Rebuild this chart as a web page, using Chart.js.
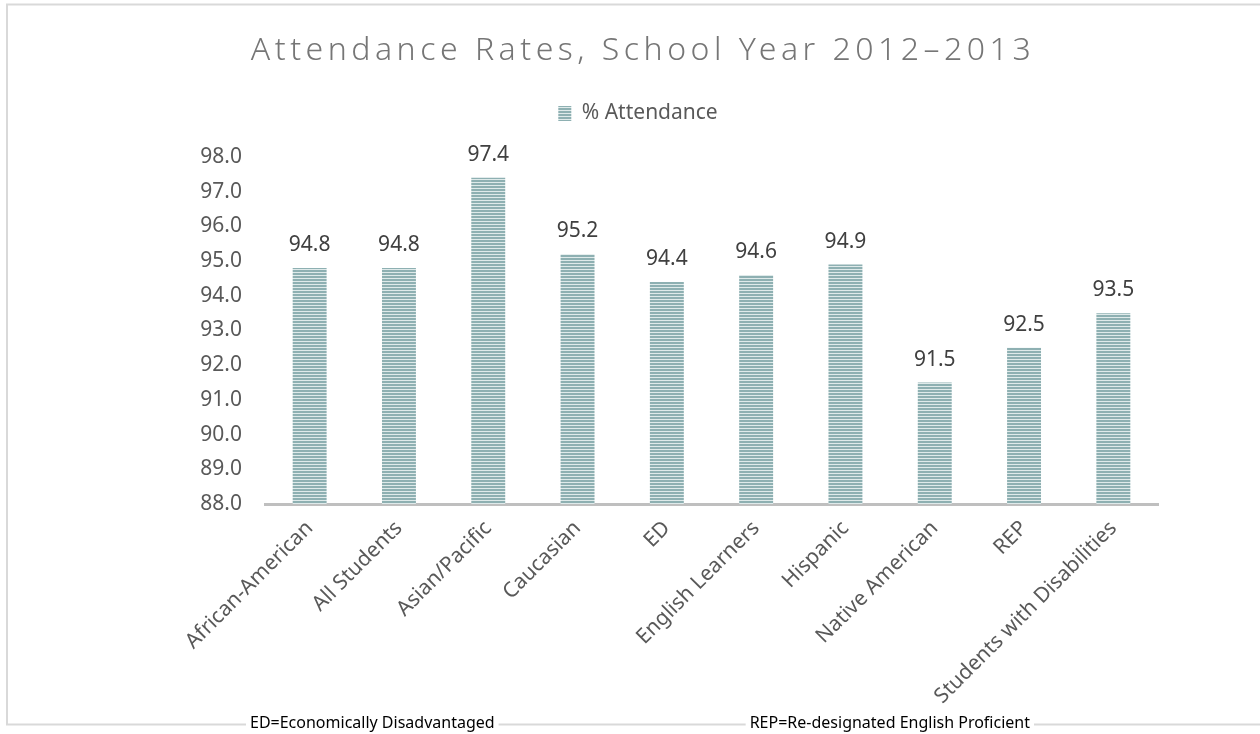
<!DOCTYPE html>
<html>
<head>
<meta charset="utf-8">
<script src="https://cdn.jsdelivr.net/npm/chart.js@4.4.1/dist/chart.umd.min.js"></script>
<style>
  html, body { margin: 0; padding: 0; background: #fff; }
  #wrap { width: 1260px; height: 734px; position: relative; }
</style>
</head>
<body>
<div id="wrap"><canvas id="attendanceChart"></canvas></div>
<script>
const categories = ['African-American', 'All Students', 'Asian/Pacific', 'Caucasian', 'ED',
  'English Learners', 'Hispanic', 'Native American', 'REP', 'Students with Disabilities'];
const attendance = [94.8, 94.8, 97.4, 95.2, 94.4, 94.6, 94.9, 91.5, 92.5, 93.5];
const seriesName = '% Attendance';
const chartTitle = 'Attendance Rates, School Year 2012\u20132013';
const footnotes = ['ED=Economically Disadvantaged', 'REP=Re-designated English Proficient'];

const FONT = '"Noto Sans", "Open Sans", sans-serif';

// narrow horizontal stripes used to fill the bars
function stripePattern() {
  const c = document.createElement('canvas');
  c.width = 4;
  c.height = 3;
  const g = c.getContext('2d');
  g.fillStyle = '#dfeaea';
  g.fillRect(0, 0, 4, 3);
  g.fillStyle = '#8eb0b2';
  g.fillRect(0, 0, 4, 2);
  return g.createPattern(c, 'repeat');
}

const stripes = stripePattern();

// light grey frame round the whole chart
const frame = {
  id: 'frame',
  beforeDraw(chart) {
    const ctx = chart.ctx;
    ctx.save();
    ctx.strokeStyle = '#d9d9d9';
    ctx.lineWidth = 2;
    ctx.strokeRect(7, 4.5, 1300, 720);
    ctx.restore();
  }
};

// title with wide letter spacing
const spacedTitle = {
  id: 'spacedTitle',
  afterDraw(chart) {
    const ctx = chart.ctx;
    ctx.save();
    ctx.font = '300 32px ' + FONT;
    ctx.letterSpacing = '4.5px';
    ctx.fillStyle = '#767676';
    ctx.textAlign = 'center';
    ctx.textBaseline = 'alphabetic';
    ctx.fillText(chartTitle, 643, 60);
    ctx.restore();
  }
};

// value above each bar
const valueLabels = {
  id: 'valueLabels',
  afterDatasetsDraw(chart) {
    const ctx = chart.ctx;
    const meta = chart.getDatasetMeta(0);
    ctx.save();
    ctx.font = '21px ' + FONT;
    ctx.fillStyle = '#404040';
    ctx.textAlign = 'center';
    ctx.textBaseline = 'alphabetic';
    meta.data.forEach((bar, i) => {
      ctx.fillText(attendance[i].toFixed(1), bar.x, bar.y - 17);
    });
    ctx.restore();
  }
};

// notes under the chart, sitting on the frame line
const notes = {
  id: 'notes',
  afterDraw(chart) {
    const ctx = chart.ctx;
    ctx.save();
    ctx.font = '16px ' + FONT;
    ctx.textBaseline = 'alphabetic';
    const w1 = ctx.measureText(footnotes[0]).width;
    const w2 = ctx.measureText(footnotes[1]).width;
    ctx.fillStyle = '#fff';
    ctx.fillRect(246, 716, w1 + 8, 18);
    ctx.fillRect(1030 - w2 - 4, 716, w2 + 8, 18);
    ctx.fillStyle = '#000';
    ctx.textAlign = 'left';
    ctx.fillText(footnotes[0], 250, 728);
    ctx.textAlign = 'right';
    ctx.fillText(footnotes[1], 1030, 728);
    ctx.restore();
  }
};

// extra room between the legend and the plot
const legendGap = {
  id: 'legendGap',
  beforeInit(chart) {
    const fit = chart.legend.fit;
    chart.legend.fit = function () {
      fit.bind(chart.legend)();
      this.height += 23;
    };
  }
};

new Chart(document.getElementById('attendanceChart'), {
  type: 'bar',
  data: {
    labels: categories,
    datasets: [{
      label: seriesName,
      data: attendance,
      backgroundColor: stripes,
      borderWidth: 0,
      barPercentage: 0.38,
      categoryPercentage: 1
    }]
  },
  options: {
    responsive: true,
    maintainAspectRatio: false,
    animation: false,
    layout: { padding: { top: 93, left: 16, right: 0, bottom: 0 } },
    plugins: {
      title: { display: false },
      tooltip: { enabled: false },
      legend: {
        position: 'top',
        labels: {
          boxWidth: 13,
          boxHeight: 15,
          padding: 10,
          color: '#595959',
          font: { family: FONT, size: 21 }
        }
      }
    },
    scales: {
      x: {
        grid: { display: false, drawTicks: false },
        border: { display: true, color: '#bfbfbf', width: 3 },
        ticks: {
          autoSkip: false,
          minRotation: 45,
          maxRotation: 45,
          padding: 12,
          color: '#595959',
          font: { family: FONT, size: 21 }
        },
        afterFit(scale) { scale.height = 230; }
      },
      y: {
        min: 88,
        max: 98,
        grid: { display: false, drawTicks: false },
        border: { display: false },
        ticks: {
          stepSize: 1,
          padding: 23,
          color: '#595959',
          font: { family: FONT, size: 21 },
          callback: v => v.toFixed(1)
        },
        afterFit(scale) { scale.width = 249; }
      },
      y2: {
        position: 'right',
        grid: { display: false, drawTicks: false },
        border: { display: false },
        ticks: { display: false },
        afterFit(scale) { scale.width = 102; }
      }
    }
  },
  plugins: [frame, spacedTitle, valueLabels, notes, legendGap]
});
</script>
</body>
</html>
